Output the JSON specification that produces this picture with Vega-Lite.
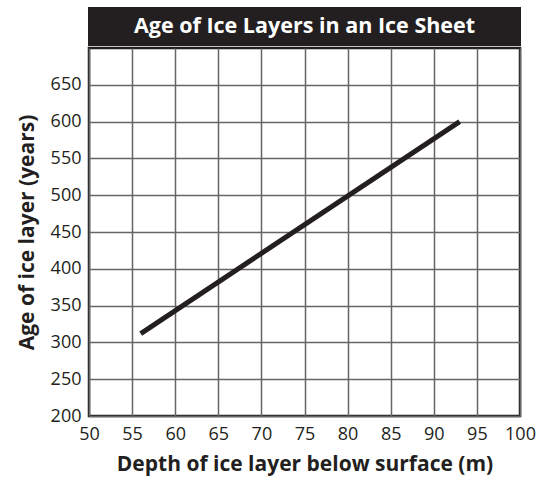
{
  "$schema": "https://vega.github.io/schema/vega-lite/v6.json",
  "background": "white",
  "padding": {"left": 14, "top": 7, "right": 8, "bottom": 5},
  "spacing": 0,
  "config": {
    "font": "Open Sans",
    "concat": {"spacing": 0}
  },
  "vconcat": [
    {
      "width": 431,
      "height": 37,
      "view": {"fill": "#231f20", "stroke": "#231f20", "strokeWidth": 2},
      "data": {"values": [{"title": "Age of Ice Layers in an Ice Sheet"}]},
      "mark": {"type": "text", "color": "white", "fontWeight": "bold", "fontSize": 21.5, "font": "Open Sans", "baseline": "middle", "align": "center"},
      "encoding": {
        "x": {"field": "title", "type": "nominal", "axis": null},
        "y": {"field": "title", "type": "nominal", "axis": null},
        "text": {"field": "title"}
      }
    },
    {
      "width": 431,
      "height": 368,
      "view": {"stroke": "#231f20", "strokeWidth": 2.5},
      "data": {"values": [
        {"depth": 56, "age": 312},
        {"depth": 93, "age": 600}
      ]},
      "mark": {"type": "line", "color": "#231f20", "strokeWidth": 5, "strokeCap": "butt"},
      "encoding": {
        "x": {
          "field": "depth", "type": "quantitative",
          "scale": {"domain": [50, 100], "nice": false, "zero": false},
          "axis": {
            "title": "Depth of ice layer below surface (m)",
            "values": [50, 55, 60, 65, 70, 75, 80, 85, 90, 95, 100],
            "tickSize": 0, "labelPadding": 9, "domain": false,
            "labelFontSize": 18, "labelColor": "#231f20", "labelFont": "Open Sans",
            "titleFontSize": 21, "titleFontWeight": "bold", "titleColor": "#231f20", "titlePadding": 10,
            "gridColor": "#666666", "gridWidth": 1.5, "gridOpacity": 1,
            "labelFlush": false, "labelOverlap": false
          }
        },
        "y": {
          "field": "age", "type": "quantitative",
          "scale": {"domain": [200, 700], "nice": false, "zero": false},
          "axis": {
            "title": "Age of ice layer (years)",
            "values": [200, 250, 300, 350, 400, 450, 500, 550, 600, 650],
            "tickSize": 0, "labelPadding": 8, "domain": false,
            "labelFontSize": 18, "labelColor": "#231f20", "labelFont": "Open Sans",
            "titleFontSize": 21, "titleFontWeight": "bold", "titleColor": "#231f20", "titlePadding": 13,
            "gridColor": "#666666", "gridWidth": 1.5, "gridOpacity": 1,
            "labelOverlap": false
          }
        }
      }
    }
  ]
}
